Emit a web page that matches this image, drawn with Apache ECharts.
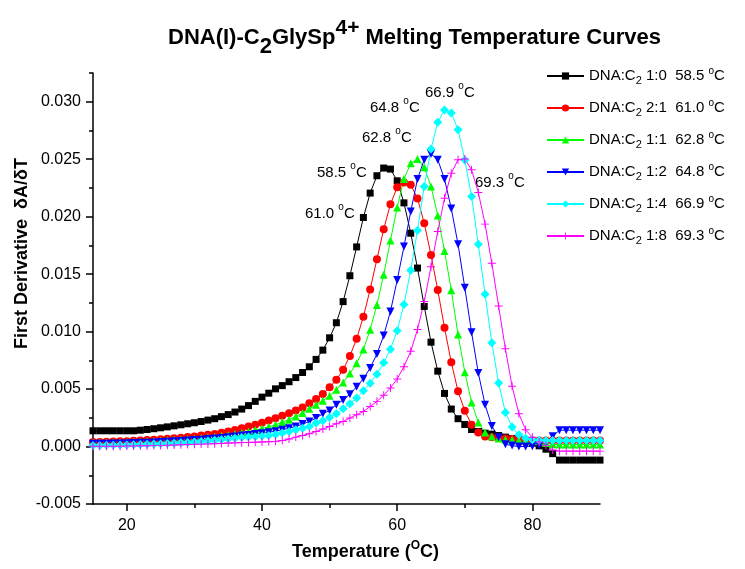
<!DOCTYPE html>
<html>
<head>
<meta charset="utf-8">
<title>DNA(I)-C2GlySp4+ Melting Temperature Curves</title>
<script src="https://cdn.jsdelivr.net/npm/echarts@6/dist/echarts.min.js"></script>
<style>
  html, body { margin: 0; padding: 0; background: #fff; }
  #chart { width: 745px; height: 569px; }
</style>
</head>
<body>
<div id="chart"></div>
<script>
// temperature (°C), one reading per degree
var temps = [
  15, 16, 17, 18, 19, 20, 21, 22, 23, 24,
  25, 26, 27, 28, 29, 30, 31, 32, 33, 34,
  35, 36, 37, 38, 39, 40, 41, 42, 43, 44,
  45, 46, 47, 48, 49, 50, 51, 52, 53, 54,
  55, 56, 57, 58, 59, 60, 61, 62, 63, 64,
  65, 66, 67, 68, 69, 70, 71, 72, 73, 74,
  75, 76, 77, 78, 79, 80, 81, 82, 83, 84,
  85, 86, 87, 88, 89, 90
];

// first derivative dA/dT
var ratio10 = [
  0.00137, 0.00137, 0.00137, 0.00137, 0.00137, 0.00137, 0.00137, 0.00142, 0.00148, 0.00155,
  0.00163, 0.00171, 0.00180, 0.00189, 0.00198, 0.00207, 0.00218, 0.00230, 0.00242, 0.00260,
  0.00278, 0.00300, 0.00326, 0.00356, 0.00393, 0.00430, 0.00464, 0.00502, 0.00530, 0.00564,
  0.00600, 0.00644, 0.00694, 0.00758, 0.00839, 0.00946, 0.01077, 0.01261, 0.01486, 0.01737,
  0.01993, 0.02205, 0.02356, 0.02423, 0.02414, 0.02312, 0.02120, 0.01856, 0.01553, 0.01219,
  0.00908, 0.00656, 0.00462, 0.00326, 0.00242, 0.00192, 0.00148, 0.00131, 0.00116, 0.00108,
  0.00096, 0.00082, 0.00070, 0.00058, 0.00050, 0.00030, 0.00006, -0.00023, -0.00062, -0.00118,
  -0.00118, -0.00118, -0.00118, -0.00118, -0.00118, -0.00118
];
var ratio21 = [
  0.00040, 0.00040, 0.00042, 0.00044, 0.00045, 0.00047, 0.00050, 0.00053, 0.00056, 0.00060,
  0.00063, 0.00067, 0.00071, 0.00076, 0.00082, 0.00088, 0.00095, 0.00102, 0.00110, 0.00120,
  0.00131, 0.00144, 0.00158, 0.00174, 0.00190, 0.00207, 0.00226, 0.00247, 0.00268, 0.00290,
  0.00314, 0.00340, 0.00377, 0.00413, 0.00457, 0.00515, 0.00582, 0.00669, 0.00788, 0.00937,
  0.01129, 0.01367, 0.01629, 0.01890, 0.02109, 0.02255, 0.02298, 0.02278, 0.02159, 0.01943,
  0.01667, 0.01361, 0.01033, 0.00733, 0.00480, 0.00312, 0.00189, 0.00122, 0.00087, 0.00080,
  0.00075, 0.00070, 0.00065, 0.00060, 0.00057, 0.00055, 0.00053, 0.00052, 0.00052, 0.00052,
  0.00052, 0.00052, 0.00052, 0.00052, 0.00052, 0.00052
];
var ratio11 = [
  0.00035, 0.00035, 0.00036, 0.00037, 0.00038, 0.00040, 0.00042, 0.00044, 0.00046, 0.00049,
  0.00052, 0.00055, 0.00058, 0.00062, 0.00066, 0.00070, 0.00075, 0.00080, 0.00086, 0.00093,
  0.00100, 0.00109, 0.00119, 0.00130, 0.00143, 0.00157, 0.00172, 0.00189, 0.00213, 0.00233,
  0.00262, 0.00291, 0.00329, 0.00364, 0.00399, 0.00442, 0.00495, 0.00557, 0.00636, 0.00725,
  0.00844, 0.01017, 0.01232, 0.01494, 0.01792, 0.02080, 0.02327, 0.02464, 0.02502, 0.02429,
  0.02263, 0.02010, 0.01702, 0.01360, 0.00975, 0.00646, 0.00384, 0.00210, 0.00122, 0.00087,
  0.00070, 0.00062, 0.00058, 0.00055, 0.00052, 0.00050, 0.00045, 0.00030, 0.00020, 0.00017,
  0.00017, 0.00017, 0.00017, 0.00017, 0.00017, 0.00017
];
var ratio12 = [
  0.00024, 0.00024, 0.00025, 0.00026, 0.00027, 0.00028, 0.00030, 0.00032, 0.00034, 0.00036,
  0.00039, 0.00042, 0.00045, 0.00048, 0.00052, 0.00056, 0.00060, 0.00065, 0.00070, 0.00075,
  0.00081, 0.00088, 0.00095, 0.00101, 0.00108, 0.00116, 0.00124, 0.00134, 0.00146, 0.00160,
  0.00175, 0.00195, 0.00218, 0.00248, 0.00285, 0.00314, 0.00364, 0.00405, 0.00455, 0.00520,
  0.00590, 0.00684, 0.00805, 0.00965, 0.01175, 0.01448, 0.01740, 0.02045, 0.02327, 0.02496,
  0.02545, 0.02496, 0.02327, 0.02072, 0.01760, 0.01382, 0.00995, 0.00640, 0.00364, 0.00178,
  0.00080, 0.00020, 0.00008, 0.00000, 0.00000, 0.00003, 0.00008, 0.00030, 0.00090, 0.00142,
  0.00142, 0.00142, 0.00142, 0.00142, 0.00142, 0.00142
];
var ratio14 = [
  0.00010, 0.00010, 0.00011, 0.00012, 0.00013, 0.00014, 0.00015, 0.00017, 0.00019, 0.00021,
  0.00023, 0.00026, 0.00029, 0.00032, 0.00036, 0.00040, 0.00044, 0.00049, 0.00054, 0.00060,
  0.00066, 0.00072, 0.00078, 0.00082, 0.00086, 0.00090, 0.00095, 0.00104, 0.00117, 0.00131,
  0.00146, 0.00160, 0.00175, 0.00204, 0.00224, 0.00253, 0.00285, 0.00329, 0.00373, 0.00422,
  0.00485, 0.00550, 0.00630, 0.00730, 0.00847, 0.01008, 0.01236, 0.01533, 0.01880, 0.02263,
  0.02589, 0.02822, 0.02929, 0.02903, 0.02757, 0.02493, 0.02176, 0.01760, 0.01324, 0.00902,
  0.00553, 0.00297, 0.00169, 0.00102, 0.00073, 0.00060, 0.00055, 0.00052, 0.00052, 0.00052,
  0.00052, 0.00052, 0.00052, 0.00052, 0.00052, 0.00052
];
var ratio18 = [
  0.00002, 0.00002, 0.00002, 0.00002, 0.00003, 0.00004, 0.00005, 0.00006, 0.00007, 0.00008,
  0.00010, 0.00011, 0.00013, 0.00015, 0.00017, 0.00019, 0.00021, 0.00023, 0.00025, 0.00027,
  0.00030, 0.00032, 0.00034, 0.00036, 0.00038, 0.00040, 0.00042, 0.00045, 0.00052, 0.00065,
  0.00082, 0.00096, 0.00111, 0.00131, 0.00152, 0.00175, 0.00198, 0.00218, 0.00248, 0.00277,
  0.00305, 0.00349, 0.00393, 0.00446, 0.00510, 0.00588, 0.00695, 0.00829, 0.01018, 0.01261,
  0.01564, 0.01871, 0.02161, 0.02377, 0.02496, 0.02502, 0.02408, 0.02211, 0.01935, 0.01594,
  0.01222, 0.00850, 0.00524, 0.00285, 0.00146, 0.00080, 0.00040, 0.00010, -0.00030, -0.00040,
  -0.00040, -0.00040, -0.00040, -0.00040, -0.00040, -0.00040
];

var ratios = ['1:0', '2:1', '1:1', '1:2', '1:4', '1:8'];
var meltTemps = ['58.5', '61.0', '62.8', '64.8', '66.9', '69.3'];
var curves = [ratio10, ratio21, ratio11, ratio12, ratio14, ratio18];

var xLabelValues = [20, 40, 60, 80];
var xMinorValues = [30, 50, 70];
var yLabelValues = [-0.005, 0, 0.005, 0.010, 0.015, 0.020, 0.025, 0.030];
var yMinorValues = [-0.0025, 0.0025, 0.0075, 0.0125, 0.0175, 0.0225, 0.0275, 0.0325];

// peak labels as written on the plot
var peakLabels = ['61.0', '58.5', '62.8', '64.8', '66.9', '69.3'];

// ---- look ----
var FONT = 'Liberation Sans, Arial, Helvetica, sans-serif';
var colors = ['#000000', '#ff0000', '#00ff00', '#0000ff', '#00ffff', '#ff00ff'];
var symbols = [
  'rect',
  'circle',
  'triangle',
  'path://M0,0 L10,0 L5,9 Z',
  'diamond',
  'path://M4.4,0 H5.6 V4.4 H10 V5.6 H5.6 V10 H4.4 V5.6 H0 V4.4 H4.4 Z'
];
var symbolSizes = [7, 8, 8, 8, 9, 8];
var peakLabelPos = [[305, 214], [317, 173], [362, 138], [370, 108], [425, 93], [475, 183]];

var chart = echarts.init(document.getElementById('chart'));

var seriesNames = ratios.map(function (r, i) {
  return 'DNA:C2 ' + r + '  ' + meltTemps[i] + ' °C';
});

var series = curves.map(function (vals, i) {
  return {
    name: seriesNames[i],
    type: 'line',
    data: temps.map(function (t, k) { return [t, vals[k]]; }),
    symbol: symbols[i],
    symbolSize: symbolSizes[i],
    showAllSymbol: true,
    itemStyle: { color: colors[i] },
    lineStyle: { color: colors[i], width: 1 },
    emphasis: { disabled: true }
  };
});

var degRich = {
  n: { fontSize: 15, fontFamily: FONT, color: '#000', lineHeight: 24, verticalAlign: 'middle' },
  o: { fontSize: 10, fontFamily: FONT, color: '#000', lineHeight: 12, verticalAlign: 'top' }
};

var graphics = peakLabels.map(function (t, i) {
  return {
    type: 'text',
    x: peakLabelPos[i][0],
    y: peakLabelPos[i][1],
    style: {
      text: '{n|' + t + ' }{o|o}{n|C}',
      rich: degRich,
      align: 'left',
      verticalAlign: 'middle'
    }
  };
});

var option = {
  animation: false,
  backgroundColor: '#fff',
  title: {
    text: '{a|DNA(I)-C}{b|2}{a|GlySp}{c|4+}{a| Melting Temperature Curves}',
    left: 168,
    top: 18,
    padding: 0,
    textStyle: {
      rich: {
        a: { fontSize: 22, fontWeight: 'bold', fontFamily: FONT, color: '#000', lineHeight: 40, verticalAlign: 'middle' },
        b: { fontSize: 22, fontWeight: 'bold', fontFamily: FONT, color: '#000', lineHeight: 22, verticalAlign: 'bottom' },
        c: { fontSize: 21, fontWeight: 'bold', fontFamily: FONT, color: '#000', lineHeight: 21, verticalAlign: 'top' }
      }
    }
  },
  legend: {
    orient: 'vertical',
    left: 546,
    top: 66,
    itemWidth: 37,
    itemHeight: 9,
    itemGap: 12,
    padding: 0,
    selectedMode: false,
    data: seriesNames,
    formatter: function (name) {
      var i = seriesNames.indexOf(name);
      return '{n|DNA:C}{s|2}{n| ' + ratios[i] + '  ' + meltTemps[i] + ' }{o|o}{n|C}';
    },
    textStyle: {
      rich: {
        n: { fontSize: 15, fontFamily: FONT, color: '#000', lineHeight: 20, verticalAlign: 'middle' },
        s: { fontSize: 11, fontFamily: FONT, color: '#000', lineHeight: 12, verticalAlign: 'bottom' },
        o: { fontSize: 10, fontFamily: FONT, color: '#000', lineHeight: 12, verticalAlign: 'top' }
      }
    }
  },
  grid: { left: 93, right: 145, top: 73, bottom: 65, containLabel: false },
  xAxis: [{
    type: 'value',
    min: 15,
    max: 90,
    interval: 5,
    name: '{b|Temperature (}{o|O}{b|C)}',
    nameLocation: 'middle',
    nameGap: 36,
    nameTextStyle: {
      padding: [0, 0, 0, 38],
      rich: {
        b: { fontSize: 18, fontWeight: 'bold', fontFamily: FONT, color: '#000', lineHeight: 24, verticalAlign: 'middle' },
        o: { fontSize: 12, fontWeight: 'bold', fontFamily: FONT, color: '#000', lineHeight: 14, verticalAlign: 'top' }
      }
    },
    axisLine: { show: true, onZero: false, lineStyle: { color: '#000', width: 1.5 } },
    axisTick: { show: true, inside: false, length: 7, customValues: xLabelValues, lineStyle: { color: '#000', width: 1.5 } },
    axisLabel: { show: true, customValues: xLabelValues, margin: 14, fontSize: 16, fontFamily: FONT, color: '#000' },
    splitLine: { show: false }
  }, {
    type: 'value',
    min: 15,
    max: 90,
    interval: 5,
    position: 'bottom',
    axisLine: { show: false, onZero: false },
    axisTick: { show: true, inside: false, length: 4, customValues: xMinorValues, lineStyle: { color: '#000', width: 1.5 } },
    axisLabel: { show: false },
    splitLine: { show: false }
  }],
  yAxis: [{
    type: 'value',
    min: -0.005,
    max: 0.0325,
    interval: 0.005,
    name: 'First Derivative  δA/δT',
    nameLocation: 'middle',
    nameGap: 62,
    nameMoveOverlap: false,
    nameTextStyle: { fontSize: 18, fontWeight: 'bold', fontFamily: FONT, color: '#000', padding: [0, 0, 0, 70] },
    axisLine: { show: true, onZero: false, lineStyle: { color: '#000', width: 1.5 } },
    axisTick: { show: true, inside: false, length: 7, customValues: yLabelValues, lineStyle: { color: '#000', width: 1.5 } },
    axisLabel: {
      show: true,
      customValues: yLabelValues,
      margin: 12,
      fontSize: 16,
      fontFamily: FONT,
      color: '#000',
      formatter: function (v) { return v.toFixed(3); }
    },
    splitLine: { show: false }
  }, {
    type: 'value',
    min: -0.005,
    max: 0.0325,
    interval: 0.005,
    position: 'left',
    axisLine: { show: false, onZero: false },
    axisTick: { show: true, inside: false, length: 4, customValues: yMinorValues, lineStyle: { color: '#000', width: 1.5 } },
    axisLabel: { show: false },
    splitLine: { show: false }
  }],
  series: series,
  graphic: graphics
};

chart.setOption(option);
</script>
</body>
</html>
